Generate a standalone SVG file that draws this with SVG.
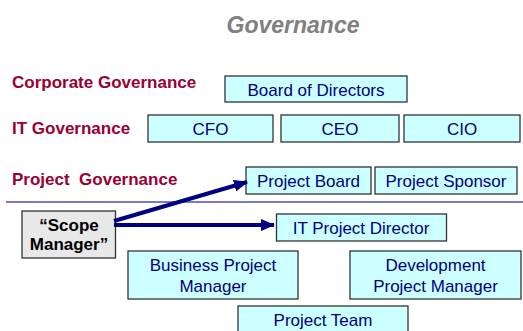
<svg xmlns="http://www.w3.org/2000/svg" width="523" height="331" viewBox="0 0 523 331">
<defs>
<style>
.box{fill:#CCFFFF;stroke:#333333;stroke-width:1.3}
.t{font-family:"Liberation Sans",Arial,sans-serif;font-size:17px;fill:#000080;text-anchor:middle}
.lab{font-family:"Liberation Sans",Arial,sans-serif;font-size:17px;font-weight:bold;fill:#990033}
.conn{stroke:#000080;stroke-width:4;fill:none}
</style>
<marker id="ah" markerUnits="userSpaceOnUse" markerWidth="14" markerHeight="12" refX="13" refY="6" orient="auto">
<path d="M0,0 L14,6 L0,12 Z" fill="#000080"/>
</marker>
</defs>
<rect width="523" height="331" fill="#FFFFFF"/>
<text x="293" y="33" font-family="Liberation Sans, Arial, sans-serif" font-size="23" font-weight="bold" font-style="italic" fill="#808080" text-anchor="middle">Governance</text>
<text class="lab" x="12" y="88">Corporate Governance</text>
<text class="lab" x="12" y="134">IT Governance</text>
<text class="lab" x="12" y="185" xml:space="preserve">Project  Governance</text>
<line x1="6" y1="202" x2="523" y2="202" stroke="#4B4BC0" stroke-width="1.5"/>
<g id="board"><rect class="box" x="225" y="76" width="182" height="26"/><text class="t" x="316" y="96">Board of Directors</text></g>
<g id="cfo"><rect class="box" x="148" y="115" width="125" height="27"/><text class="t" x="210.5" y="135">CFO</text></g>
<g id="ceo"><rect class="box" x="281" y="115" width="118" height="27"/><text class="t" x="340" y="135">CEO</text></g>
<g id="cio"><rect class="box" x="404" y="115" width="116" height="27"/><text class="t" x="462" y="135">CIO</text></g>
<g id="projectboard"><rect class="box" x="246" y="167" width="125" height="27"/><text class="t" x="308.5" y="187">Project Board</text></g>
<g id="projectsponsor"><rect class="box" x="375" y="167" width="142" height="27"/><text class="t" x="446" y="187">Project Sponsor</text></g>
<g id="scopemanager"><rect x="22" y="211" width="93.5" height="47" fill="#E8E8E8" stroke="#333333" stroke-width="1.3"/><text font-family="Liberation Sans, Arial, sans-serif" font-size="17" font-weight="bold" fill="#000000" text-anchor="middle"><tspan x="69" y="231">“Scope</tspan><tspan x="69" y="250">Manager”</tspan></text></g>
<g id="itprojectdirector"><rect class="box" x="276.5" y="214" width="170" height="27"/><text class="t" x="361" y="234">IT Project Director</text></g>
<g id="businesspm"><rect class="box" x="128" y="251" width="170" height="48"/><text class="t"><tspan x="213" y="271">Business Project</tspan><tspan x="213" y="292">Manager</tspan></text></g>
<g id="developmentpm"><rect class="box" x="350" y="251" width="171" height="48"/><text class="t"><tspan x="435.5" y="271">Development</tspan><tspan x="435.5" y="292">Project Manager</tspan></text></g>
<g id="projectteam"><rect class="box" x="238" y="306" width="170" height="30"/><text class="t" x="323" y="326">Project Team</text></g>
<g id="connectors">
<line class="conn" x1="114" y1="221" x2="247" y2="182" marker-end="url(#ah)"/>
<line class="conn" x1="114" y1="225" x2="274" y2="225" marker-end="url(#ah)"/>
</g>
</svg>
